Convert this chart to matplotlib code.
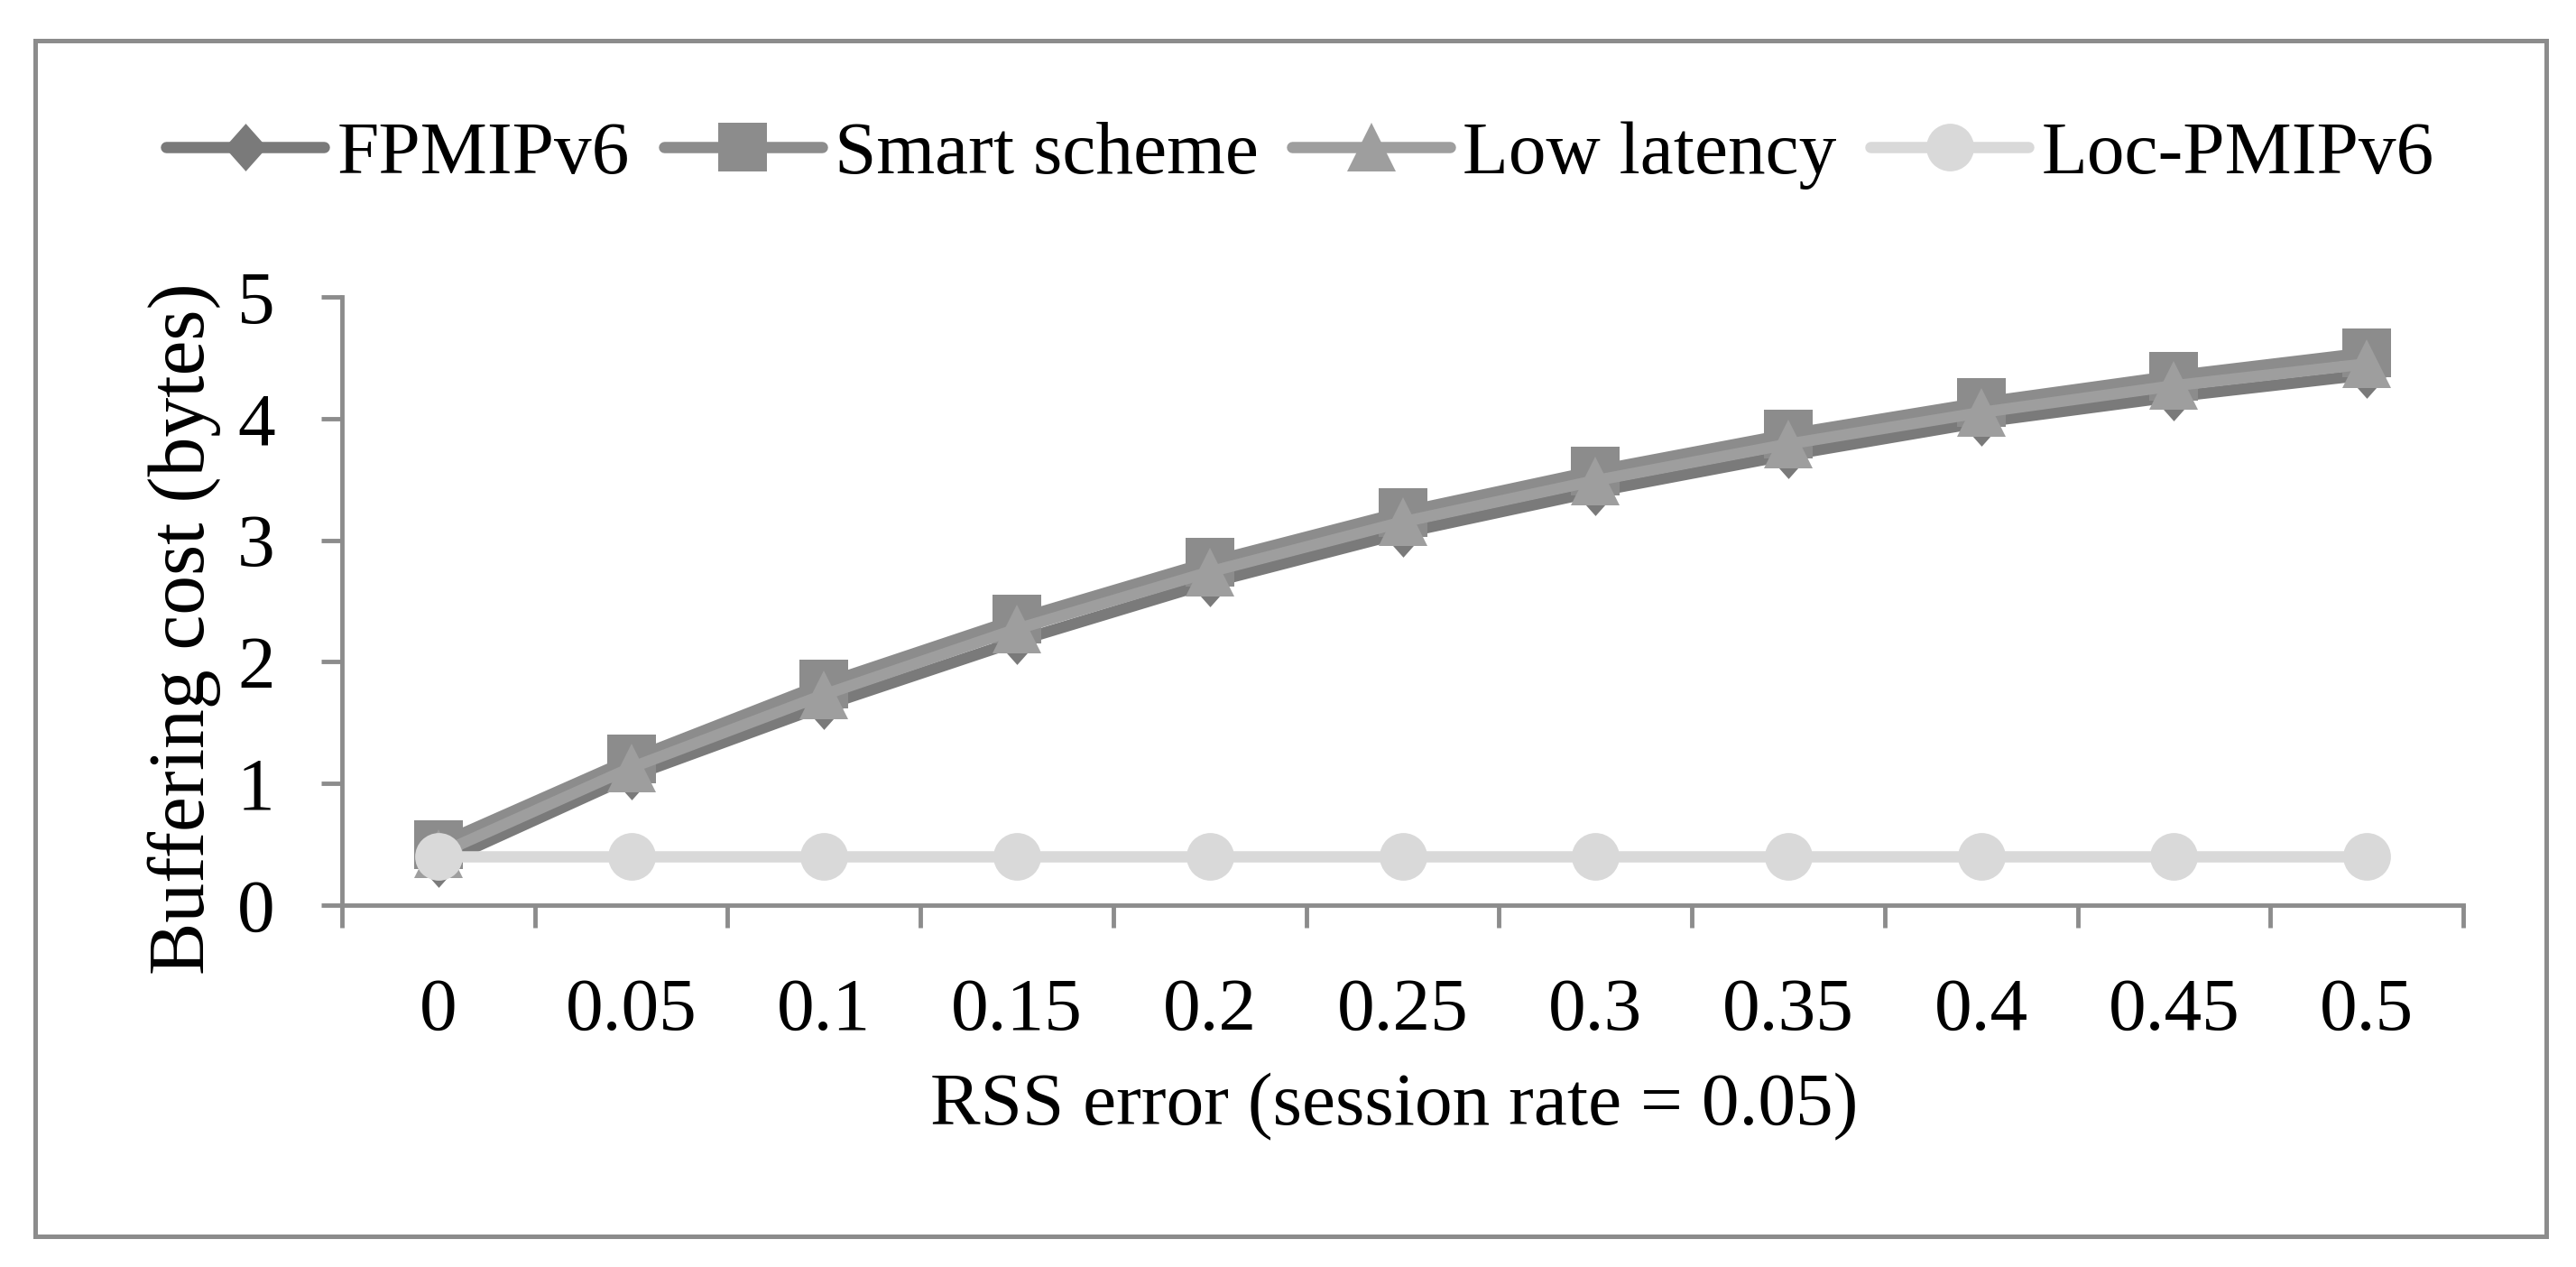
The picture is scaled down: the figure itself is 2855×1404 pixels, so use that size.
import matplotlib
matplotlib.use("Agg")
import matplotlib.pyplot as plt
from matplotlib.patches import Rectangle

plt.rcParams['font.family'] = ['Liberation Serif', 'DejaVu Serif']

categories = ["0", "0.05", "0.1", "0.15", "0.2", "0.25", "0.3", "0.35", "0.4", "0.45", "0.5"]
fpmipv6 = [0.34, 1.06, 1.64, 2.17, 2.65, 3.06, 3.40, 3.70, 3.97, 4.18, 4.36]
smart = [0.50, 1.20, 1.82, 2.35, 2.82, 3.23, 3.57, 3.87, 4.13, 4.35, 4.54]
low_latency = [0.42, 1.13, 1.73, 2.27, 2.74, 3.15, 3.49, 3.79, 4.05, 4.27, 4.45]
loc_pmipv6 = [0.40] * 11
y_ticks = [0, 1, 2, 3, 4, 5]

W, H = 2855, 1404
fig = plt.figure(figsize=(W / 100, H / 100), dpi=100)
ax = fig.add_axes([379 / W, 1 - 1003 / H, 2351 / W, 674 / H])

axis_gray = '#8c8c8c'
diamond = [(0, 1), (0.89, 0), (0, -1), (-0.89, 0), (0, 1)]
x = list(range(len(categories)))
series = [
    ("FPMIPv6", fpmipv6, '#7a7a7a', diamond, 38),
    ("Smart scheme", smart, '#8c8c8c', 's', 39),
    ("Low latency", low_latency, '#9e9e9e', '^', 39),
    ("Loc-PMIPv6", loc_pmipv6, '#d9d9d9', 'o', 38),
]
for name, vals, col, mk, ms in series:
    ax.plot(x, vals, color=col, lw=9, marker=mk, ms=ms, mew=0,
            solid_capstyle='round', label=name)

ax.set_xlim(-0.5, 10.5)
ax.set_ylim(0, 5)
ax.set_yticks(y_ticks)
ax.set_xticks(x)
ax.set_xticklabels(categories)
ax.set_xticks([i - 0.5 for i in range(len(categories) + 1)], minor=True)

for s in ['top', 'right']:
    ax.spines[s].set_visible(False)
for s in ['left', 'bottom']:
    ax.spines[s].set_color(axis_gray)
    ax.spines[s].set_linewidth(3.5)

ax.tick_params(axis='x', which='major', length=0, pad=58, labelsize=60)
ax.tick_params(axis='x', which='minor', length=18, width=3.5, color=axis_gray, direction='out')
ax.tick_params(axis='y', length=16.5, width=3.5, color=axis_gray, direction='out', pad=37, labelsize=60)

fig.text(204 / W, 1 - 697 / H, "Buffering cost (bytes)", rotation=90,
         ha='center', va='center', fontsize=63)
fig.text(1545 / W, 1 - 1246 / H, "RSS error (session rate = 0.05)",
         ha='center', va='baseline', fontsize=60)

fig.legend(loc='center', bbox_to_anchor=(1441 / W, 1 - 172 / H), ncol=4, frameon=False,
           fontsize=60, handlelength=2.1, handletextpad=0.17, columnspacing=0.45,
           borderaxespad=0, borderpad=0)

fig.patches.append(Rectangle((39 / W, 1 - 1370 / H), (2822 - 39) / W, (1370 - 45) / H,
                             transform=fig.transFigure, fill=False, ec=axis_gray, lw=3.6))

fig.savefig("out.png", dpi=100)
